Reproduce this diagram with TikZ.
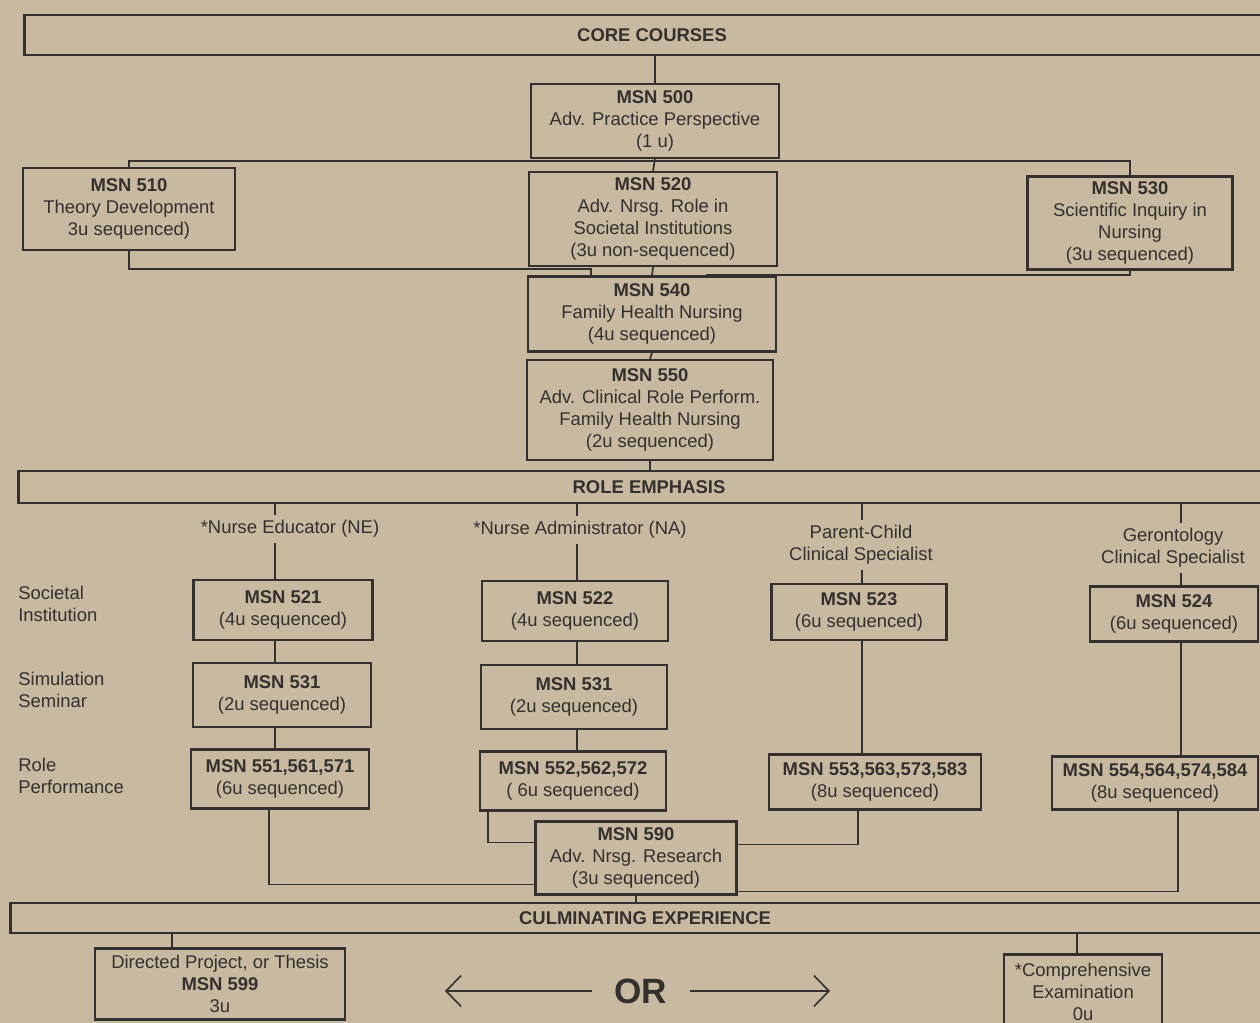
\documentclass[tikz,border=0pt]{standalone}
\usepackage{fontspec}
\setmainfont{Liberation Sans}
\usetikzlibrary{positioning,calc,arrows.meta}
\definecolor{paper}{RGB}{200,186,160}
\definecolor{ink}{RGB}{52,48,46}
\newcommand{\branch}[3]
{
	\draw[wire] (#2.north) -- +(0,-#1) -| (#3.north)
}
\newcommand{\merge}[4]
{
	\draw[wire] (#2.south) -- +(0,#1) -| ([xshift=#4]#3.north)
}

\begin{document}
\begin{tikzpicture}[x=0.02cm, y=-0.02cm,
			course/.append style={shape=rectangle,
				draw=ink,
				line width=1.4pt,
				fill=paper,
				text=ink,
				align=center,
				inner sep=0pt,
				font=\fontsize{10.5}{12.5}\selectfont},
			band/.append style={shape=rectangle,
				draw=ink,
				line width=1.6pt,
				fill=paper,
				text=ink,
				inner sep=0pt,
				font=\fontsize{10.5}{12.5}\selectfont\bfseries},
			track/.style={text=ink, align=center, inner sep=3pt,
				font=\fontsize{10.5}{12.5}\selectfont},
			rowname/.style={text=ink, align=left, anchor=west, inner sep=0pt,
				font=\fontsize{10.5}{12.5}\selectfont},
			orword/.style={text=ink, inner xsep=0.45cm,
				font=\fontsize{20}{24}\selectfont\bfseries},
			wire/.style={draw=ink, line width=1pt},
			choice/.style={draw=ink, line width=0.9pt,
				-{Straight Barb[length=3mm, width=6.2mm]}}]
			
			\useasboundingbox (0,0) rectangle (1260,1023);
			\fill[paper] (0,0) rectangle (1260,1023);
			
			% core courses
			\node[band, minimum width=25.1cm, minimum height=0.8cm] at (652, 35) (core){CORE COURSES};
			\node[course, minimum width=4.96cm, minimum height=1.48cm] at (655, 121) (m500){\textbf{MSN 500}\\Adv. Practice Perspective\\(1 u)};
			\node[course, minimum width=4.24cm, minimum height=1.64cm] at (129, 209) (m510){\textbf{MSN 510}\\Theory Development\\3u sequenced)};
			\node[course, minimum width=4.96cm, minimum height=1.88cm] at (653, 219) (m520){\textbf{MSN 520}\\Adv. Nrsg. Role in\\Societal Institutions\\(3u non-sequenced)};
			\node[course, minimum width=4.10cm, minimum height=1.86cm] at (1130, 223) (m530){\textbf{MSN 530}\\Scientific Inquiry in\\Nursing\\(3u sequenced)};
			\node[course, minimum width=4.96cm, minimum height=1.5cm] at (652, 314) (m540){\textbf{MSN 540}\\Family Health Nursing\\(4u sequenced)};
			\node[course, minimum width=4.92cm, minimum height=2.0cm] at (650, 410) (m550){\textbf{MSN 550}\\Adv. Clinical Role Perform.\\Family Health Nursing\\(2u sequenced)};
			
			\draw[wire] (core.south -| m500) -- (m500.north);
			\draw[wire] (m500.south) -- (m520.north);
			\branch{6}{m510}{m530};
			\merge{18}{m510}{m540}{-1.22cm};
			\merge{4}{m530}{m540}{1.1cm};
			\draw[wire] (m520.south) -- (m540.north);
			\draw[wire] (m540.south) -- (m550.north);
			
			% role emphasis
			\node[band, minimum width=25.24cm, minimum height=0.64cm] at (649, 487) (role){ROLE EMPHASIS};
			\draw[wire] (m550.south) -- (m550.south |- role.north);
			
			\node[track] at (290, 529) (neL){*Nurse Educator (NE)};
			\node[track] at (580, 530) (naL){*Nurse Administrator (NA)};
			\node[track] at (861, 545) (pcL){Parent-Child\\Clinical Specialist};
			\node[track] at (1173, 548) (geL){Gerontology\\Clinical Specialist};
			
			\node[rowname] at (18, 604) (soc){Societal\\Institution};
			\node[rowname] at (18, 690) (sim){Simulation\\Seminar};
			\node[rowname] at (18, 776) (perf){Role\\Performance};
			
			\coordinate (colNE) at (275, 0);
			\coordinate (colNA) at (577, 0);
			\coordinate (colPC) at (862, 0);
			\coordinate (colGE) at (1181, 0);
			
			\node[course, minimum width=3.58cm, minimum height=1.2cm] at (283, 610) (m521){\textbf{MSN 521}\\(4u sequenced)};
			\node[course, minimum width=3.72cm, minimum height=1.2cm] at (575, 611) (m522){\textbf{MSN 522}\\(4u sequenced)};
			\node[course, minimum width=3.5cm, minimum height=1.12cm] at (859, 612) (m523){\textbf{MSN 523}\\(6u sequenced)};
			\node[course, minimum width=3.36cm, minimum height=1.1cm] at (1174, 614) (m524){\textbf{MSN 524}\\(6u sequenced)};
			
			\node[course, minimum width=3.56cm, minimum height=1.28cm] at (282, 695) (m531a){\textbf{MSN 531}\\(2u sequenced)};
			\node[course, minimum width=3.72cm, minimum height=1.28cm] at (574, 697) (m531b){\textbf{MSN 531}\\(2u sequenced)};
			
			\node[course, minimum width=3.56cm, minimum height=1.18cm] at (280, 779) (m551){\textbf{MSN 551,561,571}\\(6u sequenced)};
			\node[course, minimum width=3.72cm, minimum height=1.18cm] at (573, 781) (m552){\textbf{MSN 552,562,572}\\( 6u sequenced)};
			\node[course, minimum width=4.24cm, minimum height=1.1cm] at (875, 782) (m553){\textbf{MSN 553,563,573,583}\\(8u sequenced)};
			\node[course, minimum width=4.12cm, minimum height=1.06cm] at (1155, 783) (m554){\textbf{MSN 554,564,574,584}\\(8u sequenced)};
			
			\draw[wire] (role.south -| colNE) -- (neL.north -| colNE);
			\draw[wire] (neL.south -| colNE) -- (m521.north -| colNE);
			\draw[wire] (m521.south -| colNE) -- (m531a.north -| colNE);
			\draw[wire] (m531a.south -| colNE) -- (m551.north -| colNE);
			
			\draw[wire] (role.south -| colNA) -- (naL.north -| colNA);
			\draw[wire] (naL.south -| colNA) -- (m522.north -| colNA);
			\draw[wire] (m522.south -| colNA) -- (m531b.north -| colNA);
			\draw[wire] (m531b.south -| colNA) -- (m552.north -| colNA);
			
			\draw[wire] (role.south -| colPC) -- (pcL.north -| colPC);
			\draw[wire] (pcL.south -| colPC) -- (m523.north -| colPC);
			\draw[wire] (m523.south -| colPC) -- (m553.north -| colPC);
			
			\draw[wire] (role.south -| colGE) -- (geL.north -| colGE);
			\draw[wire] (geL.south -| colGE) -- (m524.north -| colGE);
			\draw[wire] (m524.south -| colGE) -- (m554.north -| colGE);
			
			% research
			\node[course, minimum width=4.02cm, minimum height=1.46cm] at (636, 858) (m590){\textbf{MSN 590}\\Adv. Nrsg. Research\\(3u sequenced)};
			
			\draw[wire] ([xshift=-1.7cm]m552.south) |- ([yshift=0.31cm]m590.west);
			\draw[wire] ([xshift=-0.34cm]m553.south) |- ([yshift=0.27cm]m590.east);
			\draw[wire] ([xshift=-0.22cm]m551.south) |- ([yshift=-0.53cm]m590.west);
			\draw[wire] ([xshift=0.46cm]m554.south) |- ([yshift=-0.67cm]m590.east);
			
			% culminating experience
			\node[band, minimum width=25.4cm, minimum height=0.6cm] at (645, 918) (cul){CULMINATING EXPERIENCE};
			\draw[wire] (m590.south) -- (m590.south |- cul.north);
			
			\node[course, minimum width=5cm, minimum height=1.42cm] at (220, 984) (m599){Directed Project, or Thesis\\\textbf{MSN 599}\\3u};
			\node[course, minimum width=3.16cm, minimum height=1.5cm] at (1083, 992) (exam){*Comprehensive\\Examination\\0u};
			
			\draw[wire] ([xshift=-0.96cm]m599.north) -- ([xshift=-0.96cm]m599.north |- cul.south);
			\draw[wire] ([xshift=-0.12cm]exam.north) -- ([xshift=-0.12cm]exam.north |- cul.south);
			
			\node[orword] at (641, 991) (or){OR};
			\coordinate (orL) at (445, 991);
			\coordinate (orR) at (830, 991);
			\draw[choice] (or.west) -- (orL);
			\draw[choice] (or.east) -- (orR);
		\end{tikzpicture}
\end{document}
